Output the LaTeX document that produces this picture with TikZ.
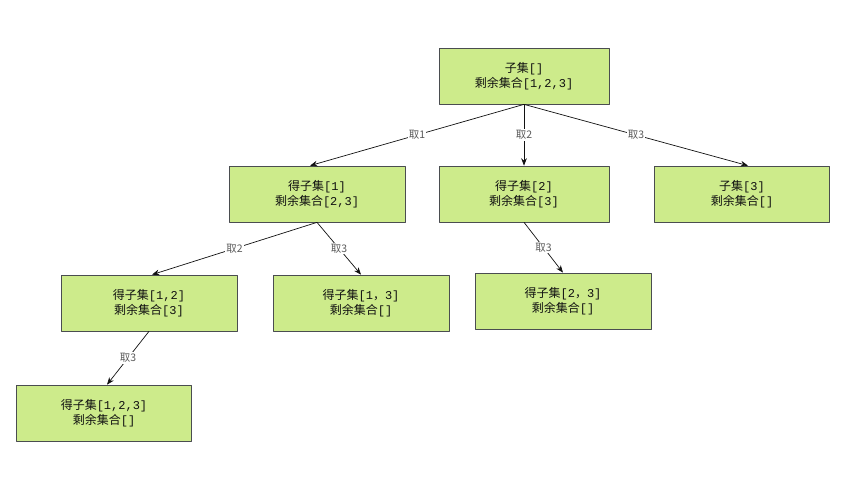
\documentclass[tikz,border=0pt]{standalone}
\usepackage{fontspec}
\setmainfont{Noto Sans CJK SC}
\newfontfamily\asciifont{Liberation Mono}
\newcommand{\asc}[1]{{\asciifont #1}}
\usetikzlibrary{arrows.meta,positioning}
\definecolor{leaf}{HTML}{CDEB8B}
\definecolor{edge}{HTML}{4A4D50}
\definecolor{ink}{HTML}{111111}
\definecolor{ink2}{HTML}{5A5A5A}
\tikzset{
  >={Stealth[length=2.6mm,width=2.0mm]},
  every picture/.style={line join=round},
  setbox/.style={draw=edge, fill=leaf, align=center, font=\fontsize{12}{15}\selectfont,
    text=ink, minimum width=176pt, minimum height=56pt, inner sep=0pt, line width=0.7pt},
  arr/.style={->, draw=ink, line width=0.7pt},
  lbl/.style={font=\fontsize{10.5}{12}\selectfont, text=ink2, fill=white, inner sep=1pt},
}
\begin{document}
\begin{tikzpicture}[x=1pt, y=-1pt]
  \useasboundingbox[fill=white] (0,0) rectangle (862,481);
  % ===================== nodes =====================
  \node[setbox, minimum width=170pt] (root) at (524,76) {子集\asc{[]}\\剩余集合\asc{[1,2,3]}};
  \node[setbox] (s1) at (317,194) {得子集\asc{[1]}\\剩余集合\asc{[2,3]}};
  \node[setbox, minimum width=170pt] (s2) at (524,194) {得子集\asc{[2]}\\剩余集合\asc{[3]}};
  \node[setbox, minimum width=175pt] (s3) at (742,194) {子集\asc{[3]}\\剩余集合\asc{[]}};
  \node[setbox] (s12) at (149,303) {得子集\asc{[1,2]}\\剩余集合\asc{[3]}};
  \node[setbox] (s13) at (361,303) {得子集\asc{[1}，\asc{3]}\\剩余集合\asc{[]}};
  \node[setbox] (s23) at (563,301) {得子集\asc{[2}，\asc{3]}\\剩余集合\asc{[]}};
  \node[setbox, minimum width=175pt] (s123) at (104,413) {得子集\asc{[1,2,3]}\\剩余集合\asc{[]}};
  % ===================== edges =====================
  \draw[arr] (root.south) -- node[lbl] {取1} ([xshift=-7pt]s1.north);
  \draw[arr] (root.south) -- node[lbl] {取2} (s2.north);
  \draw[arr] (root.south) -- node[lbl] {取3} ([xshift=6pt]s3.north);
  \draw[arr] (s1.south) -- node[lbl] {取2} ([xshift=3pt]s12.north);
  \draw[arr] (s1.south) -- node[lbl] {取3} (s13.north);
  \draw[arr] (s2.south) -- node[lbl] {取3} (s23.north);
  \draw[arr] (s12.south) -- node[lbl] {取3} ([xshift=3pt]s123.north);
\end{tikzpicture}
\end{document}
